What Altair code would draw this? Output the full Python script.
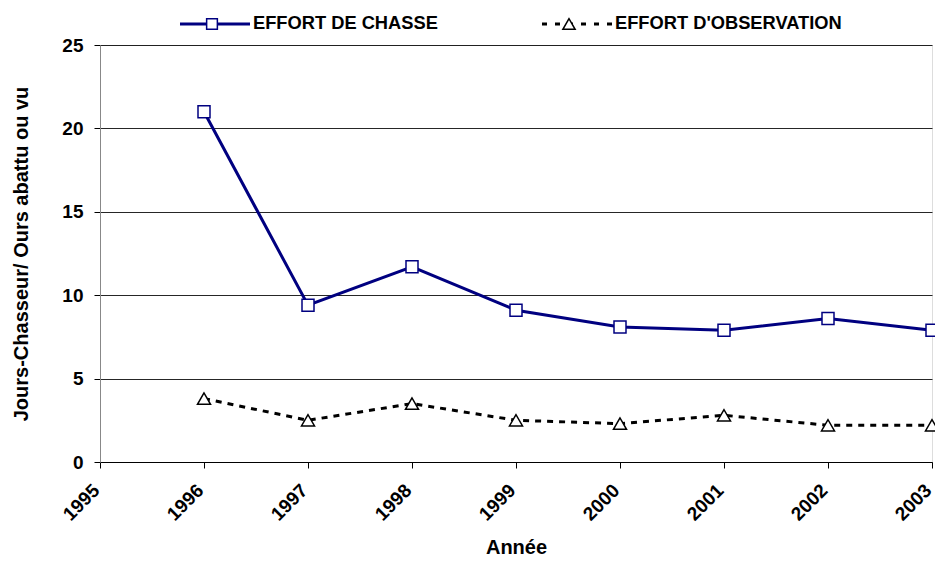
import altair as alt
import pandas as pd

years = [1996, 1997, 1998, 1999, 2000, 2001, 2002, 2003]
chasse = [21.0, 9.4, 11.7, 9.1, 8.1, 7.9, 8.6, 7.9]
observation = [3.8, 2.5, 3.5, 2.5, 2.3, 2.8, 2.2, 2.2]
x_ticks = [1995, 1996, 1997, 1998, 1999, 2000, 2001, 2002, 2003]
y_ticks = [0, 5, 10, 15, 20, 25]
series_names = ["EFFORT DE CHASSE", "EFFORT D'OBSERVATION"]

df = pd.DataFrame({"year": years, "chasse": chasse, "obs": observation})

FONT = "Liberation Sans"
BLUE = "#000080"

x = alt.X("year:Q", title="Année",
          scale=alt.Scale(domain=[1995, 2003], nice=False, zero=False),
          axis=alt.Axis(values=x_ticks, format="d", labelAngle=-45, labelAlign="right",
                        labelBaseline="middle", labelFont=FONT, labelFontWeight="bold",
                        labelFontSize=19, labelColor="black", labelPadding=19, labelOffset=-4,
                        tickColor="black", tickSize=6, domainColor="black", grid=False,
                        labelOverlap=False, labelBound=False,
                        titleFont=FONT, titleFontWeight="bold", titleFontSize=20,
                        titleColor="black", titlePadding=14))

def yax(field):
    return alt.Y(field, title="Jours-Chasseur/ Ours abattu ou vu",
                 scale=alt.Scale(domain=[0, 25], nice=False),
                 axis=alt.Axis(values=y_ticks, labelFont=FONT, labelFontWeight="bold",
                               labelFontSize=19, labelColor="black", labelPadding=11,
                               tickColor="black", tickSize=6, domainColor="#888888",
                               gridColor="black", gridWidth=1, gridOpacity=0.85,
                               titleFont=FONT, titleFontWeight="bold", titleFontSize=20,
                               titleColor="black", titlePadding=30))

base = alt.Chart(df)

line_c = base.mark_line(color=BLUE, strokeWidth=3).encode(x=x, y=yax("chasse:Q"))
pts_c = base.mark_point(shape="square", filled=True, fill="white", stroke=BLUE,
                        strokeWidth=1.5, size=144, opacity=1).encode(x=x, y=yax("chasse:Q"))
line_o = base.mark_line(color="black", strokeWidth=3, strokeDash=[6, 6]).encode(x=x, y=yax("obs:Q"))
pts_o = base.mark_point(shape="triangle-up", filled=True, fill="white", stroke="black",
                        strokeWidth=1.5, size=170, opacity=1).encode(x=x, y=yax("obs:Q"))

one = pd.DataFrame({"a": [0]})
lg = alt.Chart(one)
leg_y = -21
leg = [
    lg.mark_rule(color=BLUE, strokeWidth=3).encode(x=alt.value(80), x2=alt.value(150), y=alt.value(leg_y)),
    lg.mark_point(shape="square", filled=True, fill="white", stroke=BLUE, strokeWidth=1.5,
                  size=115, opacity=1).encode(x=alt.value(112), y=alt.value(leg_y)),
    lg.mark_text(text=series_names[0], align="left", baseline="middle", font=FONT,
                 fontWeight="bold", fontSize=18.3, color="black").encode(x=alt.value(153), y=alt.value(leg_y)),
    lg.mark_rule(color="black", strokeWidth=3, strokeDash=[5, 8]).encode(x=alt.value(442), x2=alt.value(514), y=alt.value(leg_y)),
    lg.mark_point(shape="triangle-up", filled=True, fill="white", stroke="black", strokeWidth=1.5,
                  size=150, opacity=1).encode(x=alt.value(469), y=alt.value(leg_y)),
    lg.mark_text(text=series_names[1], align="left", baseline="middle", font=FONT,
                 fontWeight="bold", fontSize=18.3, color="black").encode(x=alt.value(515), y=alt.value(leg_y)),
]

chart = alt.layer(line_c, line_o, pts_c, pts_o, *leg).properties(
    width=832, height=417,
    autosize=alt.AutoSizeParams(type="none"),
    padding={"left": 92, "top": 37, "right": 3, "bottom": 97},
).configure_view(stroke=None).configure(background="white")

chart.save("out.html", embed_options={"renderer": "svg", "actions": False})
